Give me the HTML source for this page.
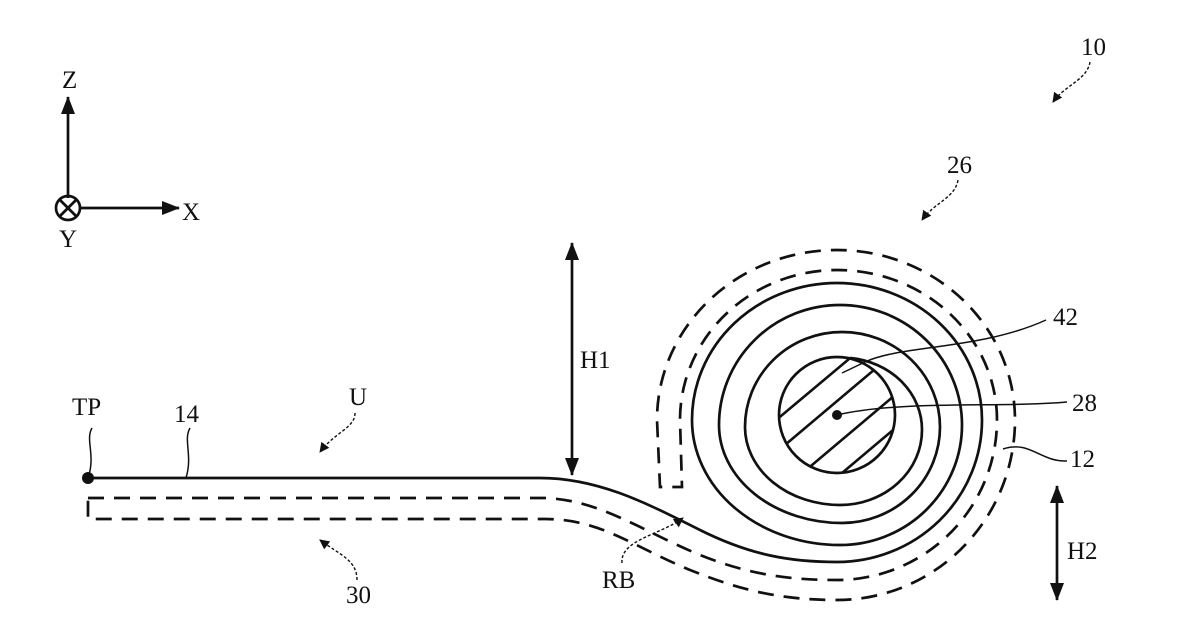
<!DOCTYPE html>
<html><head><meta charset="utf-8"><style>
html,body{margin:0;padding:0;background:#fff;}
svg{display:block}
text{font-family:"Liberation Serif",serif;font-size:25px;fill:#111}
</style></head><body>
<svg width="1200" height="638" viewBox="0 0 1200 638" xmlns="http://www.w3.org/2000/svg">
<defs>
<marker id="ah" markerWidth="10" markerHeight="10" refX="9" refY="5" orient="auto" markerUnits="userSpaceOnUse" viewBox="0 0 10 10"><path d="M0,0 L10,5 L0,10 z" fill="#111"/></marker>
<marker id="ahb" markerWidth="18" markerHeight="20" refX="17" refY="9" orient="auto-start-reverse" markerUnits="userSpaceOnUse" viewBox="0 0 18 18"><path d="M0,2 L18,9 L0,16 z" fill="#111"/></marker>
<clipPath id="cc"><circle cx="837" cy="415" r="57"/></clipPath>
</defs>
<g stroke="#111" fill="none" stroke-width="2.7">
<!-- axes -->
<line x1="68" y1="198" x2="68" y2="97" marker-end="url(#ahb)"/>
<line x1="81" y1="208" x2="179" y2="208" marker-end="url(#ahb)"/>
<circle cx="68" cy="208" r="12"/>
<line x1="60" y1="200" x2="76" y2="216"/><line x1="76" y1="200" x2="60" y2="216"/>
<!-- H arrows -->
<line x1="572" y1="243" x2="572" y2="475" marker-end="url(#ahb)" marker-start="url(#ahb)"/>
<line x1="1057" y1="486" x2="1057" y2="600" marker-end="url(#ahb)" marker-start="url(#ahb)"/>
<!-- solid spiral -->
<path d="M88,478 L540,478 C600,478 650,505 700,530 C750,555 790,562 837,562 A145,142 0 0 0 982,420 A145,137 0 0 0 837,283 A145,137 0 0 0 692,420 A148,125 0 0 0 840,545 A122,120 0 0 0 962,425 A122,120 0 0 0 840,305 A121,120 0 0 0 719,425 A123,98 0 0 0 842,523 A98,96 0 0 0 940,427 A98,95 0 0 0 842,332 A97,95 0 0 0 745,427 A95,78 0 0 0 840,505 A82,75 0 0 0 922,430 A80,72 0 0 0 850,358"/>
<!-- dashed -->
<path stroke-dasharray="16,10" d="M88,498 L545,498 C600,500 640,530 700,555 C750,575 790,580 837,580 A160,160 0 0 0 997,420 A160,150 0 0 0 837,270 A157,150 0 0 0 680,420 L682,487 L660,487 L657,420 A180,170 0 0 1 837,250 A178,170 0 0 1 1015,420 A178,180 0 0 1 837,600 C780,600 740,590 690,570 C630,545 600,519 545,519 L88,519 Z"/>
<!-- core -->
<circle cx="837" cy="415" r="58"/>
<g clip-path="url(#cc)" stroke-width="2.6">
<line x1="750" y1="442" x2="880" y2="333"/>
<line x1="760" y1="466" x2="900" y2="348"/>
<line x1="780" y1="492" x2="920" y2="374"/>
<line x1="810" y1="500" x2="950" y2="382"/>
</g>
</g>
<circle cx="837" cy="415" r="5" fill="#111"/>
<circle cx="88" cy="478" r="6" fill="#111"/>
<!-- leaders -->
<g stroke="#111" fill="none" stroke-width="1.5">
<path d="M1046,320 C980,350 900,345 865,362 L842,373"/>
<path d="M1067,402 C1000,408 900,400 837,415"/>
<path d="M1003,449 C1030,440 1040,462 1067,461"/>
<path d="M92,428 C85,440 96,455 88,478"/>
<path d="M190,428 C183,440 193,455 186,478"/>
</g>
<g stroke="#111" fill="none" stroke-width="1.4" stroke-dasharray="3,2">
<path d="M355,413 C355,428 335,432 320,452" marker-end="url(#ah)"/>
<path d="M357,580 C357,560 340,555 320,540" marker-end="url(#ah)"/>
<path d="M958,180 C955,198 935,202 922,220" marker-end="url(#ah)"/>
<path d="M1090,62 C1087,80 1065,85 1053,102" marker-end="url(#ah)"/>
<path d="M622,563 C620,540 660,535 683,518" marker-end="url(#ah)"/>
</g>
<text x="62" y="88">Z</text>
<text x="182" y="220">X</text>
<text x="59" y="247">Y</text>
<text x="1081" y="55">10</text>
<text x="947" y="173">26</text>
<text x="1053" y="325">42</text>
<text x="1072" y="411">28</text>
<text x="1070" y="467">12</text>
<text x="1067" y="559">H2</text>
<text x="580" y="368">H1</text>
<text x="349" y="405">U</text>
<text x="174" y="422">14</text>
<text x="72" y="415">TP</text>
<text x="346" y="603">30</text>
<text x="602" y="588">RB</text>
</svg>
</body></html>
